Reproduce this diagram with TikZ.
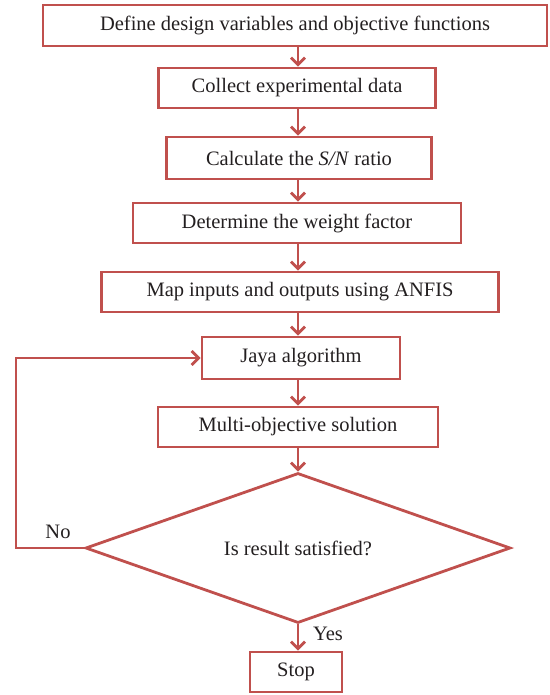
\documentclass[tikz,border=0pt]{standalone}
\usepackage{fontspec}
\setmainfont{Liberation Serif}
\usetikzlibrary{shapes.geometric,arrows.meta}
\definecolor{flowred}{HTML}{C0504D}
\definecolor{txt}{HTML}{231F20}
\begin{document}
\begin{tikzpicture}[x=1pt,y=-1pt,
  stepbox/.style={draw=flowred,line width=2.8pt,rectangle,inner sep=0pt,text=txt,font=\fontsize{20.5}{24}\selectfont},
  decbox/.style={draw=flowred,line width=2.8pt,diamond,aspect=2.83,inner sep=0pt,text=txt,font=\fontsize{20.5}{24}\selectfont,minimum width=425pt,minimum height=150pt},
  flow/.style={draw=flowred,line width=2.8pt,-{Straight Barb[length=7pt,width=14pt,line width=2.8pt]}},
  lbl/.style={text=txt,font=\fontsize{20.5}{24}\selectfont,inner sep=0pt}]
\useasboundingbox (0,0) rectangle (549,695);
\node[stepbox,minimum width=504pt,minimum height=41pt] (n1) at (295,25.5) {Define design variables and objective functions};
\node[stepbox,minimum width=277pt,minimum height=40pt] (n2) at (297,88) {Collect experimental data};
\node[stepbox,minimum width=265pt,minimum height=42pt] (n3) at (299,158) {Calculate the \textit{S/N} ratio};
\node[stepbox,minimum width=328pt,minimum height=40pt] (n4) at (297,223) {Determine the weight factor};
\node[stepbox,minimum width=397pt,minimum height=40pt] (n5) at (300,292) {Map inputs and outputs using ANFIS};
\node[stepbox,minimum width=198pt,minimum height=42pt] (n6) at (301,358) {Jaya algorithm};
\node[stepbox,minimum width=280pt,minimum height=40pt] (n7) at (298,427) {Multi-objective solution};
\node[decbox] (d) at (298,548) {Is result satisfied?};
\node[stepbox,minimum width=92pt,minimum height=40pt] (stop) at (296,672) {Stop};
\coordinate (ax) at (298,0);
\coordinate (lb) at (16,548);
\coordinate (lt) at (16,358);
\draw[flow] (n1.south -| ax) -- (n2.north -| ax);
\draw[flow] (n2.south -| ax) -- (n3.north -| ax);
\draw[flow] (n3.south -| ax) -- (n4.north -| ax);
\draw[flow] (n4.south -| ax) -- (n5.north -| ax);
\draw[flow] (n5.south -| ax) -- (n6.north -| ax);
\draw[flow] (n6.south -| ax) -- (n7.north -| ax);
\draw[flow] (n7.south -| ax) -- (d.north);
\draw[flow] (d.south) -- (stop.north -| d.south);
\draw[flow] (d.west) -- (lb) -- (lt) -- (n6.west);
\node[lbl] (no) at (58,532) {No};
\node[lbl] (yes) at (328,634) {Yes};
\end{tikzpicture}
\end{document}
